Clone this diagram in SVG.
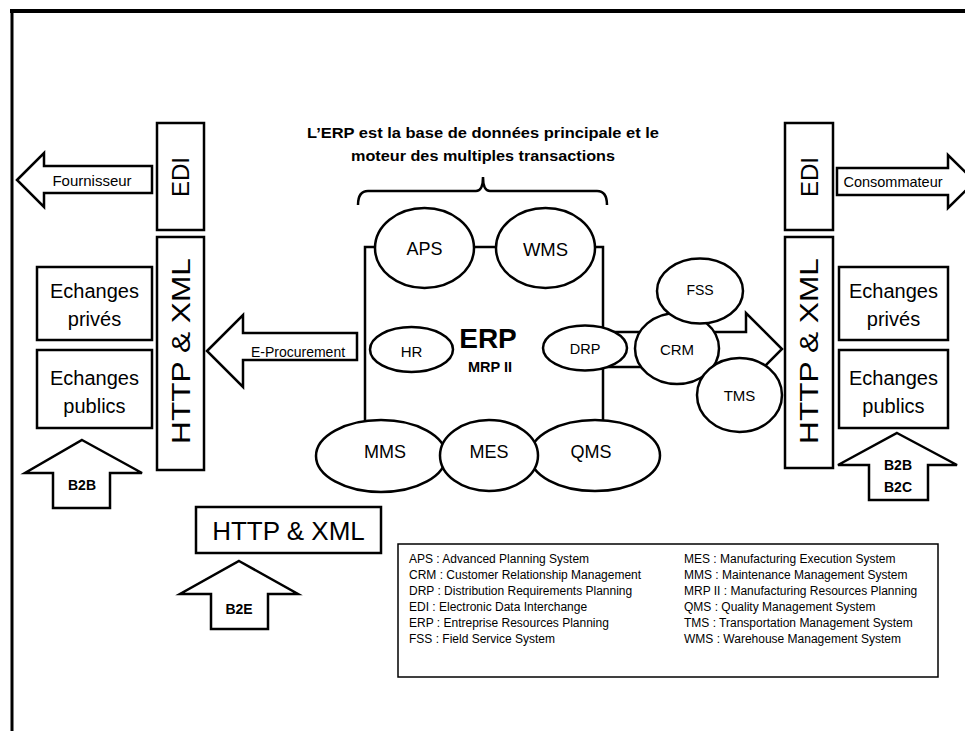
<svg xmlns="http://www.w3.org/2000/svg" width="965" height="731" viewBox="0 0 965 731">
<style>
.s{fill:#fff;stroke:#000;stroke-width:2.5}
.t{font-family:"Liberation Sans",Arial,sans-serif;fill:#000;text-anchor:middle;dominant-baseline:central}
.b{font-weight:bold}
.lg{font-family:"Liberation Sans",Arial,sans-serif;font-size:12px;fill:#000}
</style>
<rect width="965" height="731" fill="#fff"/>
<g id="frame">
<line x1="10" y1="11" x2="965" y2="11" stroke="#000" stroke-width="4"/>
<line x1="12" y1="9" x2="12" y2="731" stroke="#000" stroke-width="3"/>
</g>
<g id="title">
<text class="t b" x="483" y="132" font-size="15.5" textLength="352" lengthAdjust="spacingAndGlyphs">L’ERP est la base de données principale et le</text>
<text class="t b" x="483" y="155" font-size="15.5" textLength="264" lengthAdjust="spacingAndGlyphs">moteur des multiples transactions</text>
<path d="M358,205 Q358,191 368,191 L476,191 Q483,191 483,177 Q483,191 490,191 L597,191 Q607,191 607,205" fill="none" stroke="#000" stroke-width="2.5"/>
</g>
<g id="connectors">
<polygon class="s" points="17,180 44,153 44,166 152,166 152,193 44,193 44,207"/>
<polygon class="s" points="837,168 948,168 948,155 975,181.5 948,208 948,195 837,195"/>
<polygon class="s" points="207,351 243,315 243,333 357,333 357,360 243,360 243,387"/>
<polygon class="s" points="82,440 142,473 110,473 110,508 53,508 53,473 25,473"/>
<polygon class="s" points="897,433 957,465 928,465 928,500 869,500 869,465 838,465"/>
<polygon class="s" points="239,561 298,594 268,594 268,629 211,629 211,594 180,594"/>
</g>
<g id="erp">
<rect class="s" x="365" y="247" width="238" height="209"/>
<text class="t b" x="488" y="338" font-size="28">ERP</text>
<text class="t b" x="490" y="367" font-size="14.5">MRP II</text>
</g>
<g id="arrow-right">
<polygon class="s" points="600,332 746,332 746,313 782,349 746,385 746,367 600,367"/>
</g>
<g id="aps"><ellipse class="s" cx="424.5" cy="248" rx="49.5" ry="40"/><text class="t" x="424.5" y="249" font-size="18">APS</text></g>
<g id="wms"><ellipse class="s" cx="545.5" cy="248" rx="49.5" ry="40"/><text class="t" x="545.5" y="249" font-size="18.5">WMS</text></g>
<g id="hr"><ellipse class="s" cx="411.5" cy="349.5" rx="41.5" ry="22.5"/><text class="t" x="411.5" y="351" font-size="15">HR</text></g>
<g id="drp"><ellipse class="s" cx="585" cy="348" rx="42" ry="22.5"/><text class="t" x="585" y="349" font-size="14.5">DRP</text></g>
<g id="crm"><ellipse class="s" cx="677" cy="348.5" rx="42" ry="35.5"/><text class="t" x="677" y="349" font-size="15">CRM</text></g>
<g id="fss"><ellipse class="s" cx="700" cy="291" rx="43" ry="32.5"/><text class="t" x="700" y="290" font-size="14">FSS</text></g>
<g id="tms"><ellipse class="s" cx="739.5" cy="395" rx="42.5" ry="37"/><text class="t" x="739.5" y="395" font-size="15">TMS</text></g>
<g id="mms"><ellipse class="s" cx="381" cy="456" rx="65" ry="36"/><text class="t" x="385" y="452" font-size="18">MMS</text></g>
<g id="qms"><ellipse class="s" cx="595" cy="455.5" rx="65" ry="35.5"/><text class="t" x="591" y="452" font-size="18">QMS</text></g>
<g id="mes"><ellipse class="s" cx="489" cy="455.5" rx="49" ry="35.5"/><text class="t" x="489" y="452" font-size="18">MES</text></g>
<g id="edi-left"><rect class="s" x="157" y="123" width="47" height="107"/><text class="t" transform="translate(180.5,177) rotate(-90)" font-size="24">EDI</text></g>
<g id="edi-right"><rect class="s" x="785" y="123" width="48" height="107"/><text class="t" transform="translate(809,177) rotate(-90)" font-size="24">EDI</text></g>
<g id="http-left"><rect class="s" x="157" y="237" width="47" height="233"/><text class="t" transform="translate(180.5,351) rotate(-90)" font-size="26" textLength="186" lengthAdjust="spacingAndGlyphs">HTTP &amp; XML</text></g>
<g id="http-right"><rect class="s" x="785" y="237" width="48" height="231"/><text class="t" transform="translate(809,351) rotate(-90)" font-size="26" textLength="186" lengthAdjust="spacingAndGlyphs">HTTP &amp; XML</text></g>
<g id="fournisseur"><text class="t" x="92" y="180" font-size="15">Fournisseur</text></g>
<g id="consommateur"><text class="t" x="893" y="182" font-size="14.5">Consommateur</text></g>
<g id="eproc"><text class="t" x="298" y="352" font-size="14">E-Procurement</text></g>
<g id="ech-prives-left"><rect class="s" x="37" y="267" width="115" height="73"/><text class="t" x="94.5" y="291" font-size="20">Echanges</text><text class="t" x="94.5" y="319" font-size="20">privés</text></g>
<g id="ech-publics-left"><rect class="s" x="37" y="350" width="115" height="78"/><text class="t" x="94.5" y="378" font-size="20">Echanges</text><text class="t" x="94.5" y="406" font-size="20">publics</text></g>
<g id="ech-prives-right"><rect class="s" x="839" y="267" width="109" height="73"/><text class="t" x="893.5" y="291" font-size="20">Echanges</text><text class="t" x="893.5" y="319" font-size="20">privés</text></g>
<g id="ech-publics-right"><rect class="s" x="839" y="350" width="109" height="78"/><text class="t" x="893.5" y="378" font-size="20">Echanges</text><text class="t" x="893.5" y="406" font-size="20">publics</text></g>
<g id="b2b-left"><text class="t b" x="82" y="485" font-size="14">B2B</text></g>
<g id="b2b-b2c"><text class="t b" x="898" y="465" font-size="14">B2B</text><text class="t b" x="898" y="487" font-size="14">B2C</text></g>
<g id="b2e"><text class="t b" x="239" y="609" font-size="14">B2E</text></g>
<g id="http-bottom"><rect class="s" x="196" y="507" width="185" height="46"/><text class="t" x="288.5" y="531" font-size="26">HTTP &amp; XML</text></g>
<g id="legend">
<rect x="398" y="544" width="540" height="133" fill="#fff" stroke="#000" stroke-width="1.5"/>
<text class="lg" x="409" y="563">APS : Advanced Planning System</text>
<text class="lg" x="409" y="579">CRM : Customer Relationship Management</text>
<text class="lg" x="409" y="595">DRP : Distribution Requirements Planning</text>
<text class="lg" x="409" y="611">EDI : Electronic Data Interchange</text>
<text class="lg" x="409" y="627">ERP : Entreprise Resources Planning</text>
<text class="lg" x="409" y="643">FSS : Field Service System</text>
<text class="lg" x="684" y="563">MES : Manufacturing Execution System</text>
<text class="lg" x="684" y="579">MMS : Maintenance Management System</text>
<text class="lg" x="684" y="595">MRP II : Manufacturing Resources Planning</text>
<text class="lg" x="684" y="611">QMS : Quality Management System</text>
<text class="lg" x="684" y="627">TMS : Transportation Management System</text>
<text class="lg" x="684" y="643">WMS : Warehouse Management System</text>
</g>
</svg>
